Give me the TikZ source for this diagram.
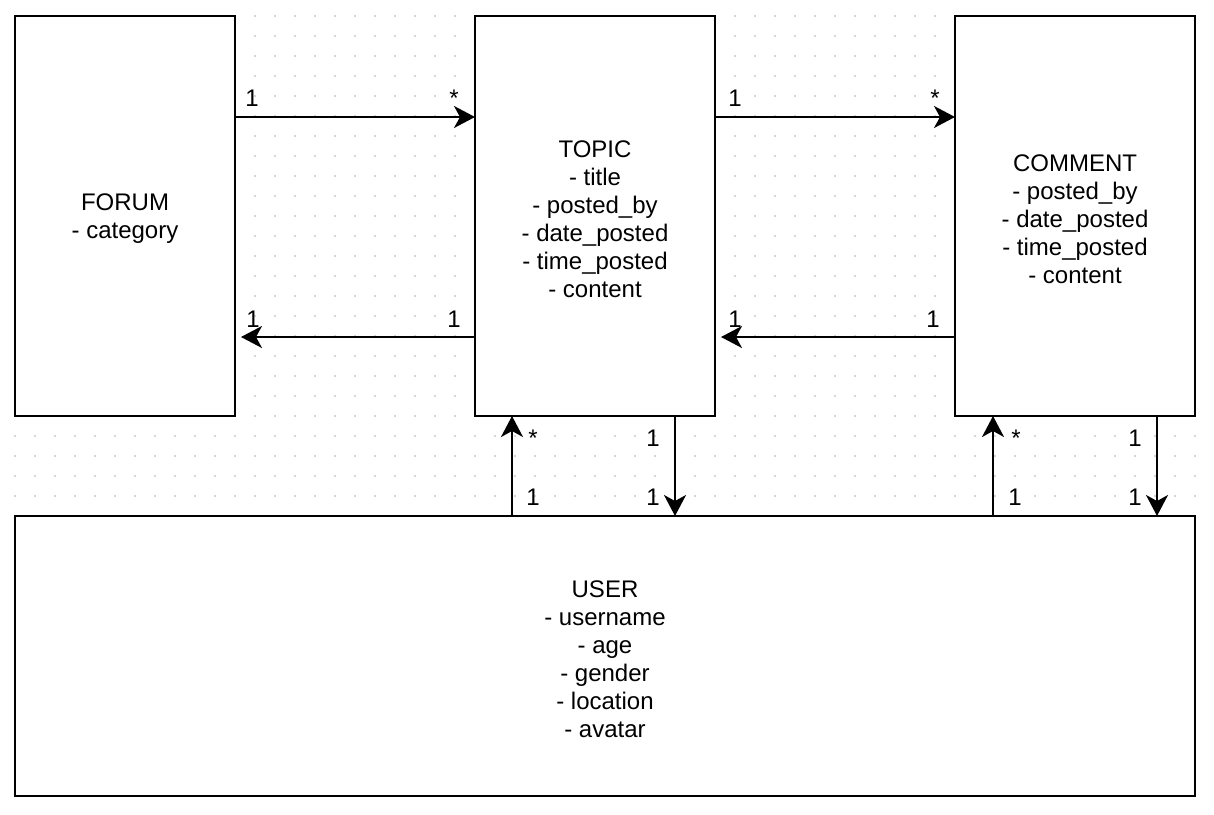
\documentclass[tikz,border=0pt]{standalone}
\usepackage{fontspec}
\setmainfont{Liberation Sans}
\usetikzlibrary{arrows.meta,calc}
\begin{document}
\begin{tikzpicture}[x=1pt,y=-1pt,
  box/.style={draw=black,line width=2pt,fill=white,inner sep=0pt,outer sep=0pt},
  txt/.style={inner sep=0pt,align=center,font=\fontsize{24}{28}\selectfont},
  arr/.style={line width=2pt,-{Stealth[length=21pt,width=22pt,inset=6pt]}},
  lbl/.style={anchor=base,inner sep=0pt,font=\fontsize{24}{28}\selectfont}]
\useasboundingbox (0,0) rectangle (1214,814);
\fill[white] (0,0) rectangle (1214,814);
% dotted grid
\foreach \i in {0,...,59}{
  \foreach \j in {0,...,39}{
    \fill[black!16] ({15+20*\i-1},{16+20*\j-1}) rectangle ++(2,2);
  }
}
% boxes
\node[box,minimum width=220pt,minimum height=400pt] (forum) at (125,216) {};
\node[box,minimum width=240pt,minimum height=400pt] (topic) at (595,216) {};
\node[box,minimum width=240pt,minimum height=400pt] (comment) at (1075,216) {};
\node[box,minimum width=1180pt,minimum height=280pt] (user) at (605,656) {};
% box texts
\node[txt] (forumtxt) at ([yshift=-3pt]forum.center) {FORUM\\- category};
\node[txt] (topictxt) at ([yshift=-3pt]topic.center) {TOPIC\\- title\\- posted\_by\\- date\_posted\\- time\_posted\\- content};
\node[txt] (commenttxt) at ([yshift=-3pt]comment.center) {COMMENT\\- posted\_by\\- date\_posted\\- time\_posted\\- content};
\node[txt] (usertxt) at ([yshift=-3pt]user.center) {USER\\- username\\- age\\- gender\\- location\\- avatar};
% anchor coordinates
\coordinate (ft) at ([yshift=-101pt]forum.north east);
\coordinate (tf) at ([yshift=-321pt]topic.north west);
\coordinate (tc) at ([yshift=-101pt]topic.north east);
\coordinate (ct) at ([yshift=-321pt]comment.north west);
\coordinate (ut) at ([xshift=37pt]topic.south west);
\coordinate (tu) at ([xshift=200pt]topic.south west);
\coordinate (uc) at ([xshift=38pt]comment.south west);
\coordinate (cu) at ([xshift=202pt]comment.south west);
% connectors
\draw[arr] (ft) -- (ft -| topic.west);
\draw[arr,shorten >=6pt] (tf) -- (tf -| forum.east);
\draw[arr] (tc) -- (tc -| comment.west);
\draw[arr,shorten >=6pt] (ct) -- (ct -| topic.east);
\draw[arr] (ut |- user.north) -- (ut);
\draw[arr] (tu) -- (tu |- user.north);
\draw[arr] (uc |- user.north) -- (uc);
\draw[arr] (cu) -- (cu |- user.north);
% multiplicity labels
\node[lbl] (l1) at (252,106) {1};
\node[lbl] (l2) at (454,106) {*};
\node[lbl] (l3) at (253,327) {1};
\node[lbl] (l4) at (454,327) {1};
\node[lbl] (l5) at (735,106) {1};
\node[lbl] (l6) at (935,106) {*};
\node[lbl] (l7) at (735,327) {1};
\node[lbl] (l8) at (933,327) {1};
\node[lbl] (l9) at (533,446) {*};
\node[lbl] (l10) at (653,446) {1};
\node[lbl] (l11) at (533,505) {1};
\node[lbl] (l12) at (653,505) {1};
\node[lbl] (l13) at (1016,446) {*};
\node[lbl] (l14) at (1135,446) {1};
\node[lbl] (l15) at (1015,505) {1};
\node[lbl] (l16) at (1135,505) {1};
\end{tikzpicture}
\end{document}
